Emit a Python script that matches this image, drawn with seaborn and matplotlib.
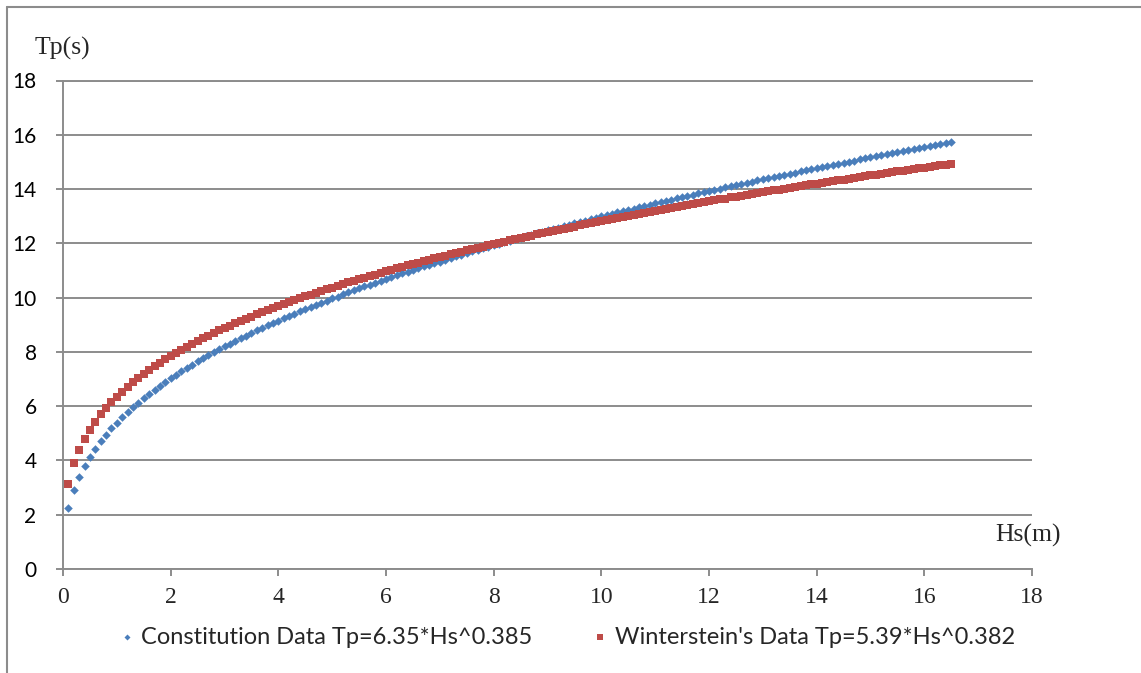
import matplotlib
matplotlib.use("Agg")
import matplotlib.pyplot as plt
from matplotlib.lines import Line2D
import pandas as pd
import seaborn as sns

# ---------------- data ----------------
hs = [0.1, 0.2, 0.3, 0.4, 0.5, 0.6, 0.7, 0.8, 0.9, 1.0,
      1.1, 1.2, 1.3, 1.4, 1.5, 1.6, 1.7, 1.8, 1.9, 2.0,
      2.1, 2.2, 2.3, 2.4, 2.5, 2.6, 2.7, 2.8, 2.9, 3.0,
      3.1, 3.2, 3.3, 3.4, 3.5, 3.6, 3.7, 3.8, 3.9, 4.0,
      4.1, 4.2, 4.3, 4.4, 4.5, 4.6, 4.7, 4.8, 4.9, 5.0,
      5.1, 5.2, 5.3, 5.4, 5.5, 5.6, 5.7, 5.8, 5.9, 6.0,
      6.1, 6.2, 6.3, 6.4, 6.5, 6.6, 6.7, 6.8, 6.9, 7.0,
      7.1, 7.2, 7.3, 7.4, 7.5, 7.6, 7.7, 7.8, 7.9, 8.0,
      8.1, 8.2, 8.3, 8.4, 8.5, 8.6, 8.7, 8.8, 8.9, 9.0,
      9.1, 9.2, 9.3, 9.4, 9.5, 9.6, 9.7, 9.8, 9.9, 10.0,
      10.1, 10.2, 10.3, 10.4, 10.5, 10.6, 10.7, 10.8, 10.9, 11.0,
      11.1, 11.2, 11.3, 11.4, 11.5, 11.6, 11.7, 11.8, 11.9, 12.0,
      12.1, 12.2, 12.3, 12.4, 12.5, 12.6, 12.7, 12.8, 12.9, 13.0,
      13.1, 13.2, 13.3, 13.4, 13.5, 13.6, 13.7, 13.8, 13.9, 14.0,
      14.1, 14.2, 14.3, 14.4, 14.5, 14.6, 14.7, 14.8, 14.9, 15.0,
      15.1, 15.2, 15.3, 15.4, 15.5, 15.6, 15.7, 15.8, 15.9, 16.0,
      16.1, 16.2, 16.3, 16.4, 16.5]

tp_constitution = [
    2.24, 2.91, 3.40, 3.80, 4.14, 4.43, 4.70, 4.95, 5.18, 5.39,
    5.59, 5.78, 5.96, 6.13, 6.29, 6.45, 6.60, 6.75, 6.89, 7.02,
    7.16, 7.28, 7.41, 7.53, 7.65, 7.76, 7.88, 7.99, 8.10, 8.20,
    8.30, 8.41, 8.50, 8.60, 8.70, 8.79, 8.88, 8.98, 9.07, 9.15,
    9.24, 9.33, 9.41, 9.49, 9.57, 9.66, 9.73, 9.81, 9.89, 9.97,
    10.04, 10.12, 10.19, 10.27, 10.34, 10.41, 10.48, 10.55, 10.62, 10.69,
    10.75, 10.82, 10.89, 10.95, 11.02, 11.08, 11.15, 11.21, 11.27, 11.33,
    11.40, 11.46, 11.52, 11.58, 11.64, 11.70, 11.76, 11.81, 11.87, 11.93,
    11.98, 12.04, 12.10, 12.15, 12.21, 12.26, 12.32, 12.37, 12.42, 12.48,
    12.53, 12.58, 12.63, 12.69, 12.74, 12.79, 12.84, 12.89, 12.94, 12.99,
    13.04, 13.09, 13.14, 13.19, 13.23, 13.28, 13.33, 13.38, 13.42, 13.47,
    13.52, 13.56, 13.61, 13.66, 13.70, 13.75, 13.79, 13.84, 13.88, 13.93,
    13.97, 14.01, 14.06, 14.10, 14.15, 14.19, 14.23, 14.27, 14.32, 14.36,
    14.40, 14.44, 14.48, 14.53, 14.57, 14.61, 14.65, 14.69, 14.73, 14.77,
    14.81, 14.85, 14.89, 14.93, 14.97, 15.01, 15.05, 15.09, 15.13, 15.17,
    15.20, 15.24, 15.28, 15.32, 15.36, 15.39, 15.43, 15.47, 15.51, 15.54,
    15.58, 15.62, 15.65, 15.69, 15.73]

tp_winterstein = [
    3.15, 3.89, 4.40, 4.80, 5.14, 5.43, 5.70, 5.93, 6.15, 6.35,
    6.54, 6.71, 6.88, 7.04, 7.19, 7.33, 7.47, 7.60, 7.72, 7.84,
    7.96, 8.08, 8.19, 8.29, 8.40, 8.50, 8.60, 8.69, 8.79, 8.88,
    8.97, 9.05, 9.14, 9.22, 9.30, 9.39, 9.46, 9.54, 9.62, 9.69,
    9.77, 9.84, 9.91, 9.98, 10.05, 10.11, 10.18, 10.25, 10.31, 10.37,
    10.44, 10.50, 10.56, 10.62, 10.68, 10.74, 10.80, 10.85, 10.91, 10.97,
    11.02, 11.08, 11.13, 11.19, 11.24, 11.29, 11.34, 11.39, 11.45, 11.50,
    11.55, 11.59, 11.64, 11.69, 11.74, 11.79, 11.83, 11.88, 11.93, 11.97,
    12.02, 12.06, 12.11, 12.15, 12.20, 12.24, 12.28, 12.33, 12.37, 12.41,
    12.45, 12.49, 12.54, 12.58, 12.62, 12.66, 12.70, 12.74, 12.78, 12.82,
    12.86, 12.89, 12.93, 12.97, 13.01, 13.05, 13.08, 13.12, 13.16, 13.19,
    13.23, 13.27, 13.30, 13.34, 13.37, 13.41, 13.45, 13.48, 13.51, 13.55,
    13.58, 13.62, 13.65, 13.69, 13.72, 13.75, 13.79, 13.82, 13.85, 13.88,
    13.92, 13.95, 13.98, 14.01, 14.05, 14.08, 14.11, 14.14, 14.17, 14.20,
    14.23, 14.26, 14.29, 14.32, 14.35, 14.38, 14.41, 14.44, 14.47, 14.50,
    14.53, 14.56, 14.59, 14.62, 14.65, 14.68, 14.71, 14.74, 14.76, 14.79,
    14.82, 14.85, 14.88, 14.90, 14.93]

label_constitution = "Constitution Data Tp=6.35*Hs^0.385"
label_winterstein = "Winterstein's Data Tp=5.39*Hs^0.382"
x_ticks = [0, 2, 4, 6, 8, 10, 12, 14, 16, 18]
y_ticks = [0, 2, 4, 6, 8, 10, 12, 14, 16, 18]
x_title = "Hs(m)"
y_title = "Tp(s)"

# ---------------- style ----------------
sns.set_style("white")
SANS = ["Lato", "DejaVu Sans"]
SERIF = ["Liberation Serif", "DejaVu Serif"]
plt.rcParams["font.family"] = SANS

BLUE = "#4A7EBB"
RED = "#BE4B48"
GRID = "#8C8C8C"

df_c = pd.DataFrame({"Hs": hs, "Tp": tp_constitution})
df_w = pd.DataFrame({"Hs": hs, "Tp": tp_winterstein})

fig = plt.figure(figsize=(11.41, 6.73), dpi=100)
ax = fig.add_axes([63 / 1141, 1 - 569 / 673, (1032 - 63) / 1141, (569 - 80.5) / 673])

sns.scatterplot(data=df_c, x="Hs", y="Tp", ax=ax, marker="D", s=19,
                color=BLUE, linewidth=0, label=label_constitution, zorder=3)
sns.scatterplot(data=df_w, x="Hs", y="Tp", ax=ax, marker="s", s=38,
                color=RED, linewidth=0, label=label_winterstein, zorder=4)

ax.set_xlim(0, 18)
ax.set_ylim(0, 18)
ax.set_xticks(x_ticks)
ax.set_yticks(y_ticks)
ax.set_xlabel("")
ax.set_ylabel("")

ax.yaxis.grid(True, color=GRID, linewidth=1.4)
ax.xaxis.grid(False)
for side in ["left", "bottom", "top"]:
    ax.spines[side].set_visible(True)
    ax.spines[side].set_color(GRID)
    ax.spines[side].set_linewidth(1.4)
ax.spines["right"].set_visible(False)

ax.tick_params(axis="y", which="major", direction="out", length=5, width=1.4,
               color=GRID, pad=14, labelsize=15, left=True)
ax.tick_params(axis="x", which="major", direction="out", length=5, width=1.4,
               color=GRID, pad=8, labelsize=17, bottom=True)
for t in ax.get_xticklabels():
    t.set_family(SERIF)
for t in ax.get_yticklabels():
    t.set_family(SANS)
    t.set_color("black")

# axis titles (Excel-style, placed freely)
fig.text(62 / 1141, 1 - 48 / 673, y_title, family=SERIF, fontsize=18.5,
         ha="center", va="center")
fig.text(1028 / 1141, 1 - 535 / 673, x_title, family=SERIF, fontsize=18.5,
         ha="center", va="center")

# legend at bottom
handles, labels = ax.get_legend_handles_labels()
if ax.get_legend():
    ax.get_legend().remove()
leg = fig.legend(handles, labels, loc="center", bbox_to_anchor=(0.497, 1 - 637 / 673),
                 ncol=2, frameon=False, fontsize=17, markerscale=0.7,
                 handlelength=0.6, handletextpad=0.3, columnspacing=2.6)

# chart-area border (top and left visible)
fig.add_artist(Line2D([7 / 1141, 7 / 1141], [0, 1 - 6.5 / 673], transform=fig.transFigure,
                      color=GRID, linewidth=1.5))
fig.add_artist(Line2D([7 / 1141, 1], [1 - 6.5 / 673, 1 - 6.5 / 673], transform=fig.transFigure,
                      color=GRID, linewidth=1.5))

fig.savefig("out.png", dpi=100)
